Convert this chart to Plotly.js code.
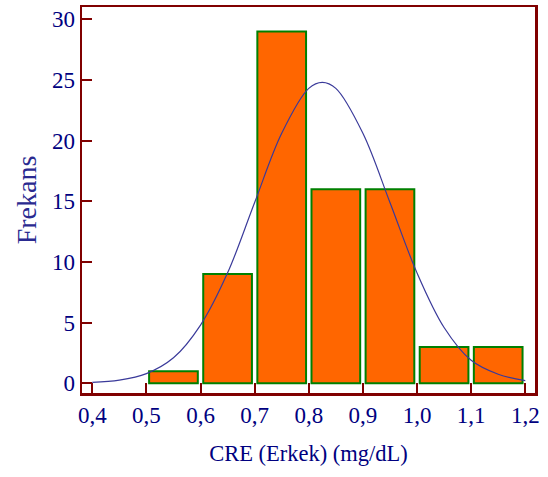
<!DOCTYPE html>
<html>
<head>
<meta charset="utf-8">
<script src="https://cdn.plot.ly/plotly-3.0.1.min.js"></script>
<style>html,body{margin:0;padding:0;background:#fff;}</style>
</head>
<body>
<div id="chart" style="width:548px;height:477px;"></div>
<script>
// Histogram bins (centers) and frequencies
const binCenters = [0.55, 0.65, 0.75, 0.85, 0.95, 1.05, 1.15];
const frequencies = [1, 9, 29, 16, 16, 3, 3];
const barWidths = [0.09, 0.09, 0.09, 0.09, 0.09, 0.09, 0.09];

// Fitted normal curve
const curveX = [0.40, 0.45, 0.50, 0.55, 0.60, 0.65, 0.70, 0.75, 0.80, 0.825, 0.85, 0.90, 0.95, 1.00, 1.05, 1.10, 1.15, 1.20];
const curveY = [0.07, 0.26, 0.80, 2.1, 4.8, 9.1, 14.9, 20.6, 24.3, 24.8, 24.3, 20.6, 14.9, 9.1, 4.6, 1.9, 0.75, 0.22];

// Tick labels
const xTickVals = [0.4, 0.5, 0.6, 0.7, 0.8, 0.9, 1.0, 1.1, 1.2];
const xTickText = ["0,4", "0,5", "0,6", "0,7", "0,8", "0,9", "1,0", "1,1", "1,2"];
const yTickVals = [0, 5, 10, 15, 20, 25, 30];

const axisColor = '#800000';
const textColor = '#000080';
const fontFam = '"Liberation Serif", "Times New Roman", serif';

const data = [
  {
    type: 'bar',
    x: binCenters,
    y: frequencies,
    width: barWidths,
    marker: {color: '#FF6600', line: {color: '#008000', width: 2}},
    hoverinfo: 'x+y'
  },
  {
    type: 'scatter',
    mode: 'lines',
    x: curveX,
    y: curveY,
    line: {color: '#3a3a9a', width: 1.2, shape: 'spline'},
    hoverinfo: 'skip'
  }
];

const layout = {
  width: 548,
  height: 477,
  margin: {l: 82, r: 13, t: 7, b: 84},
  paper_bgcolor: '#ffffff',
  plot_bgcolor: '#ffffff',
  showlegend: false,
  font: {family: fontFam, color: textColor, size: 23},
  xaxis: {
    range: [0.381, 1.218],
    tickvals: xTickVals,
    ticktext: xTickText,
    ticks: 'inside',
    ticklen: 10,
    tickwidth: 2,
    tickcolor: axisColor,
    showline: true,
    linecolor: axisColor,
    linewidth: 2.5,
    mirror: true,
    showgrid: false,
    zeroline: false,
    tickfont: {family: fontFam, size: 23, color: textColor},
    title: {text: 'CRE (Erkek) (mg/dL)', font: {family: fontFam, size: 22.5, color: textColor}, standoff: 18}
  },
  yaxis: {
    range: [-0.8, 31.01],
    tickvals: yTickVals,
    ticks: 'inside',
    ticklen: 10,
    tickwidth: 2,
    tickcolor: axisColor,
    showline: true,
    linecolor: axisColor,
    linewidth: 2.5,
    mirror: true,
    showgrid: false,
    zeroline: false,
    tickfont: {family: fontFam, size: 23, color: textColor},
    title: {text: 'Frekans', font: {family: fontFam, size: 28, color: '#2a2a90'}, standoff: 7}
  }
};

Plotly.newPlot('chart', data, layout, {displayModeBar: false, staticPlot: true});
</script>
</body>
</html>
